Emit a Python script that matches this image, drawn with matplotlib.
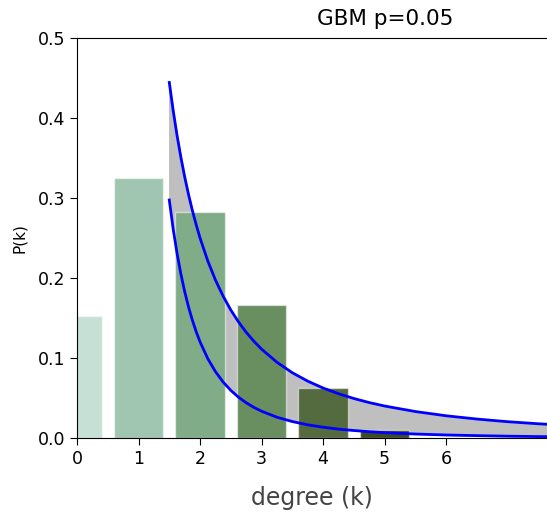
import matplotlib
matplotlib.use("Agg")
import matplotlib.pyplot as plt

# observed degree distribution
degrees = [0, 1, 2, 3, 4, 5]
probs = [0.153, 0.325, 0.283, 0.166, 0.062, 0.010]
bar_colors = ["#c6e0d6", "#a0c6b1", "#80ac88", "#698e60", "#546b40", "#3e4a22"]

# power-law envelope: upper ~ k^-2, lower ~ k^-3.15
k_fit = [1.5, 1.5625, 1.625, 1.6875, 1.75, 1.8125, 1.875, 1.9375, 2.0, 2.125,
         2.25, 2.375, 2.5, 2.625, 2.75, 2.875, 3.0, 3.25, 3.5, 3.75, 4.0, 4.25,
         4.5, 4.75, 5.0, 5.5, 6.0, 6.5, 7.0, 7.5, 8.0]
p_upper = [0.4444, 0.4096, 0.3787, 0.3512, 0.3265, 0.3044, 0.2844, 0.2664, 0.2500,
           0.2215, 0.1975, 0.1773, 0.1600, 0.1451, 0.1322, 0.1210, 0.1111, 0.0947,
           0.0816, 0.0711, 0.0625, 0.0554, 0.0494, 0.0443, 0.0400, 0.0331, 0.0278,
           0.0237, 0.0204, 0.0178, 0.0156]
p_lower = [0.2975, 0.2615, 0.2312, 0.2053, 0.1831, 0.1639, 0.1473, 0.1328, 0.1202,
           0.0993, 0.0830, 0.0700, 0.0595, 0.0510, 0.0441, 0.0383, 0.0335, 0.0260,
           0.0206, 0.0165, 0.0135, 0.0111, 0.0094, 0.0079, 0.0067, 0.0050, 0.0038,
           0.0030, 0.0023, 0.0018, 0.0015]

fig = plt.figure(figsize=(5.47, 5.12), dpi=100)
ax = fig.add_axes([0.1408, 0.1445, 0.8592, 0.7813])

ax.fill_between(k_fit, p_lower, p_upper, color="#bfbfbf", zorder=1)
ax.bar(degrees, probs, width=0.8, color=bar_colors,
       edgecolor=(1, 1, 1, 0.5), linewidth=1.0, zorder=1.5)
ax.plot(k_fit, p_upper, color="blue", lw=2, zorder=3)
ax.plot(k_fit, p_lower, color="blue", lw=2, zorder=3)

ax.set_xlim(0, 7.64)
ax.set_ylim(0, 0.5)
ax.set_xticks(range(7))
ax.set_yticks([0.0, 0.1, 0.2, 0.3, 0.4, 0.5])
ax.set_yticklabels(["0.0", "0.1", "0.2", "0.3", "0.4", "0.5"])
ax.tick_params(labelsize=12.5, length=5)
ax.spines["right"].set_visible(False)

ax.set_title("GBM p=0.05", fontsize=15.5, pad=9, x=0.655)
ax.set_xlabel("degree (k)", fontsize=17, color="#444444", labelpad=13)
ax.set_ylabel("P(k)", fontsize=11, labelpad=8)

fig.savefig("out.png", dpi=100)
